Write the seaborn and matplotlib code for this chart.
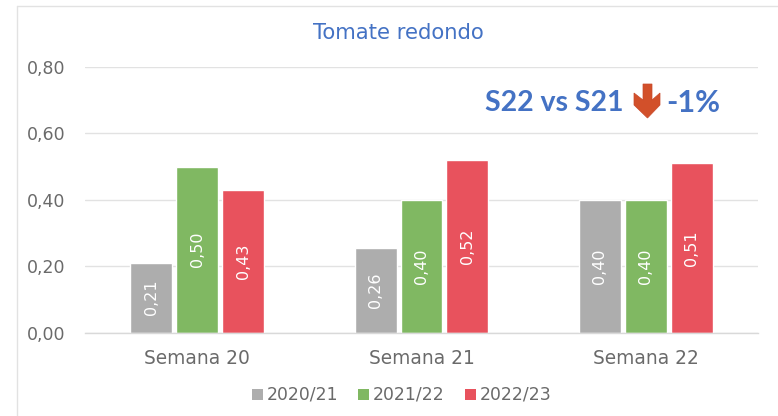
import matplotlib
matplotlib.use("Agg")
import matplotlib.pyplot as plt
from matplotlib.patches import Polygon, Rectangle
import pandas as pd
import seaborn as sns

# Chart data
weeks = ["Semana 20", "Semana 21", "Semana 22"]
seasons = ["2020/21", "2021/22", "2022/23"]
values_2021 = [0.21, 0.255, 0.40]
values_2122 = [0.50, 0.40, 0.40]
values_2223 = [0.43, 0.52, 0.51]
labels_2021 = ["0,21", "0,26", "0,40"]
labels_2122 = ["0,50", "0,40", "0,40"]
labels_2223 = ["0,43", "0,52", "0,51"]
y_ticks = [0.0, 0.2, 0.4, 0.6, 0.8]
colors = ["#ADADAD", "#80B862", "#E8525D"]

W, H = 778, 416
GREY = "#6A6A6A"
BLUE = "#4472C4"
REGULAR = ["DejaVu Sans"]
BOLD = ["Lato", "DejaVu Sans"]

sns.set_theme(style="white")
plt.rcParams["font.family"] = REGULAR

df = pd.DataFrame({
    "week": weeks * 3,
    "season": [s for s in seasons for _ in weeks],
    "value": values_2021 + values_2122 + values_2223,
})

fig = plt.figure(figsize=(W / 100, H / 100), dpi=100)
ax = fig.add_axes([85 / W, 1 - 332.5 / H, (758 - 85) / W, (332.5 - 67) / H])

sns.barplot(data=df, x="week", y="value", hue="season", order=weeks, hue_order=seasons,
            palette=colors, width=0.615, gap=0.087, saturation=1, ax=ax)

for container, labels in zip(ax.containers, [labels_2021, labels_2122, labels_2223]):
    ax.bar_label(container, labels=labels, label_type="center", rotation=90,
                 color="white", fontsize=11.5)

ax.set_ylim(0, 0.8)
ax.set_yticks(y_ticks)
ax.set_yticklabels([f"{t:.2f}".replace(".", ",") for t in y_ticks])
ax.set_xlabel("")
ax.set_ylabel("")
ax.tick_params(axis="x", length=0, pad=12, labelsize=13.4, labelcolor=GREY)
ax.tick_params(axis="y", length=0, pad=14, labelsize=12.5, labelcolor=GREY)
ax.grid(axis="y", color="#E2E2E2", lw=1)
ax.set_axisbelow(True)
for side in ["top", "right", "left"]:
    ax.spines[side].set_visible(False)
ax.spines["bottom"].set_color("#D9D9D9")
ax.spines["bottom"].set_linewidth(1)

# Outer chart frame, open to the right and bottom of the image
px = fig.transFigure
fig.add_artist(plt.Line2D([17 / W, 17 / W], [0, 1 - 6 / H], color="#E2E2E2", lw=1))
fig.add_artist(plt.Line2D([17 / W, 1], [1 - 6 / H, 1 - 6 / H], color="#E2E2E2", lw=1))

fig.text(398 / W, 1 - 33 / H, "Tomate redondo", color=BLUE, fontsize=15.2,
         ha="center", va="center")
fig.text(485 / W, 1 - 103 / H, "S22 vs S21", color=BLUE, fontsize=20.5,
         fontweight="bold", family=BOLD, ha="left", va="center")
fig.text(666 / W, 1 - 103 / H, "-1%", color=BLUE, fontsize=22,
         fontweight="bold", family=BOLD, ha="left", va="center")

# Red down arrow next to the comparison text
arrow = [(643, 84), (652, 84), (652, 100), (660, 93), (660, 105), (647.5, 118),
         (634, 105), (634, 93), (643, 100)]
fig.add_artist(Polygon([(x / W, 1 - y / H) for x, y in arrow], closed=True,
                       transform=px, facecolor="#D2502A", edgecolor="#C8492A", lw=0.5))

# Legend drawn by hand so spacing follows the reference
ax.get_legend().remove()
for x0, season, color in zip([252, 358, 465], seasons, colors):
    fig.add_artist(Rectangle((x0 / W, 1 - 400 / H), 11 / W, 11 / H, transform=px,
                             facecolor=color, edgecolor="none"))
    fig.text((x0 + 15) / W, 1 - 394.5 / H, season, color=GREY, fontsize=12.4,
             ha="left", va="center")

fig.savefig("out.png", dpi=100)
